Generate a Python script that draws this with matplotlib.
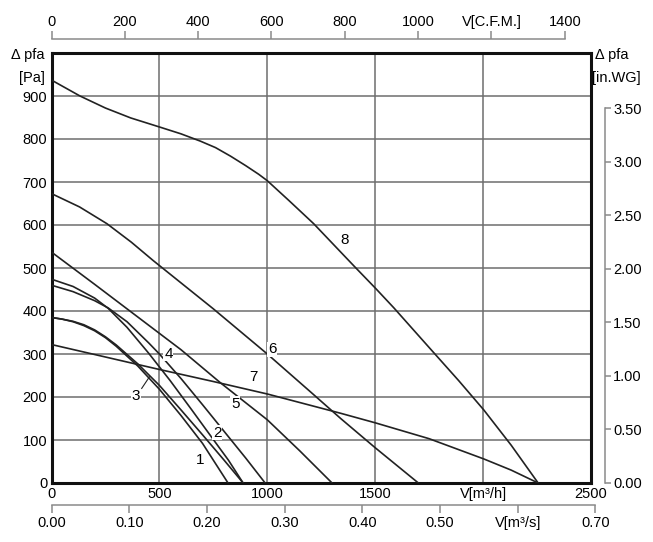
import matplotlib
matplotlib.use('Agg')
import matplotlib.pyplot as plt

plt.rcParams['font.family'] = ['Liberation Sans Narrow', 'Liberation Sans', 'DejaVu Sans']

# fan curves: flow in m3/h, pressure in Pa
q1 = [0, 50, 100, 150, 200, 250, 300, 400, 500, 600, 700, 818]
p1 = [385, 381, 375, 366, 354, 338, 318, 272, 218, 157, 92, 0]
q2 = [0, 100, 200, 263, 350, 450, 550, 650, 750, 820, 888]
p2 = [474, 457, 430, 406, 362, 302, 238, 170, 101, 53, 0]
q3 = [0, 50, 100, 150, 200, 250, 300, 400, 500, 600, 700, 800, 888]
p3 = [385, 381, 376, 368, 356, 340, 321, 277, 227, 170, 112, 53, 0]
q4 = [0, 100, 200, 263, 350, 450, 500, 600, 700, 800, 900, 990]
p4 = [460, 445, 424, 407, 375, 326, 300, 243, 182, 120, 58, 0]
q5 = [0, 200, 400, 600, 783, 1000, 1150, 1300]
p5 = [537, 462, 386, 310, 233, 147, 75, 0]
q6 = [0, 130, 257, 370, 472, 750, 1000, 1200, 1340, 1500, 1700]
p6 = [673, 642, 603, 560, 517, 405, 300, 212, 150, 82, 0]
q7 = [0, 250, 500, 750, 1000, 1341, 1500, 1750, 2003, 2130, 2255]
p7 = [322, 293, 264, 236, 207, 162, 140, 103, 56, 30, 0]
q8 = [0, 132, 250, 367, 500, 600, 690, 760, 830, 900, 960, 1000, 1100, 1215,
      1401, 1503, 1587, 1759, 1887, 2003, 2130, 2255]
p8 = [937, 900, 872, 849, 828, 812, 795, 780, 760, 738, 718, 703, 657, 603,
      505, 452, 407, 310, 238, 170, 88, 0]

curves = [(q1, p1), (q2, p2), (q3, p3), (q4, p4), (q5, p5), (q6, p6), (q7, p7), (q8, p8)]
label_names = ['1', '2', '3', '4', '5', '6', '7', '8']
label_q = [687, 767, 392, 542, 852, 1023, 938, 1359]
label_p = [54, 117, 203, 301, 184, 311, 247, 564]

x_ticks = [0, 500, 1000, 1500, 2000, 2500]
x_labels = ['0', '500', '1000', '1500', 'V[m³/h]', '2500']
y_ticks = [0, 100, 200, 300, 400, 500, 600, 700, 800, 900]
cfm_ticks = [0, 200, 400, 600, 800, 1000, 1200, 1400]
cfm_labels = ['0', '200', '400', '600', '800', '1000', 'V[C.F.M.]', '1400']
m3s_ticks = [0.0, 0.1, 0.2, 0.3, 0.4, 0.5, 0.6, 0.7]
m3s_labels = ['0.00', '0.10', '0.20', '0.30', '0.40', '0.50', 'V[m³/s]', '0.70']
wg_ticks = [0.0, 0.5, 1.0, 1.5, 2.0, 2.5, 3.0, 3.5]
wg_labels = ['0.00', '0.50', '1.00', '1.50', '2.00', '2.50', '3.00', '3.50']

W, H = 653, 542
fig = plt.figure(figsize=(W / 100, H / 100), dpi=100)
L, R, T, B = 51.5, 591, 53, 483
ax = fig.add_axes([L / W, 1 - B / H, (R - L) / W, (B - T) / H])
ax.set_xlim(0, 2500)
ax.set_ylim(0, 1000)

fs = 10.5
grid_c = '#6e6e6e'
axis_c = '#8a8a8a'

for x in [500, 1000, 1500, 2000]:
    ax.axvline(x, color=grid_c, lw=1.1, zorder=1)
for y in y_ticks[1:]:
    ax.axhline(y, color=grid_c, lw=1.1, zorder=1)

for q, p in curves:
    ax.plot(q, p, color='#222222', lw=1.2, zorder=3)

for name, xq, yp in zip(label_names, label_q, label_p):
    ax.text(xq, yp, name, fontsize=11, ha='center', va='center', zorder=4,
            bbox=dict(facecolor='white', edgecolor='none', pad=0.5))
# leader for label 3
ax.plot([418, 454], [220, 247], color='#222222', lw=0.8, zorder=3)

for s in ax.spines.values():
    s.set_linewidth(2.2)
    s.set_color('#111111')
ax.set_xticks(x_ticks)
ax.set_xticklabels(x_labels)
ax.set_yticks(y_ticks)
ax.tick_params(axis='both', length=0, labelsize=fs, pad=3)

ax.text(-33, 995, 'Δ pfa', fontsize=fs, ha='right', va='center')
ax.text(-33, 943, '[Pa]', fontsize=fs, ha='right', va='center')
ax.text(2520, 995, 'Δ pfa', fontsize=fs, ha='left', va='center')
ax.text(2505, 943, '[in.WG]', fontsize=fs, ha='left', va='center')

# right axis in in.WG
axr = ax.twinx()
axr.set_ylim(0, 1000 / 249.09)
for k in ['top', 'bottom', 'left']:
    axr.spines[k].set_visible(False)
axr.spines['right'].set_position(('outward', 10))
axr.spines['right'].set_bounds(0, 3.5)
axr.spines['right'].set_color(axis_c)
axr.spines['right'].set_linewidth(1.1)
axr.set_yticks(wg_ticks)
axr.set_yticklabels(wg_labels)
axr.tick_params(axis='y', length=4, width=1.1, color=axis_c, labelsize=fs, pad=2)

# top axis in CFM
axt = ax.twiny()
axt.set_xlim(0, 2500 / 1.699)
for k in ['right', 'bottom', 'left']:
    axt.spines[k].set_visible(False)
axt.spines['top'].set_position(('outward', 10))
axt.spines['top'].set_bounds(0, 1400)
axt.spines['top'].set_color(axis_c)
axt.spines['top'].set_linewidth(1.1)
axt.set_xticks(cfm_ticks)
axt.set_xticklabels(cfm_labels)
axt.tick_params(axis='x', length=6, width=1.1, color=axis_c, labelsize=fs, pad=1.5)

# bottom axis in m3/s
w_s = 0.7 * 3600 * (R - L) / 2500
axs = fig.add_axes([L / W, 1 - 505 / H, w_s / W, 0.001])
axs.set_xlim(0, 0.7)
axs.patch.set_visible(False)
for k in ['right', 'top', 'left']:
    axs.spines[k].set_visible(False)
axs.spines['bottom'].set_color(axis_c)
axs.spines['bottom'].set_linewidth(1.1)
axs.set_yticks([])
axs.set_xticks(m3s_ticks)
axs.set_xticklabels(m3s_labels)
axs.tick_params(axis='x', length=6, width=1.1, color=axis_c, labelsize=fs, pad=2)

fig.savefig('out.png', dpi=100)
